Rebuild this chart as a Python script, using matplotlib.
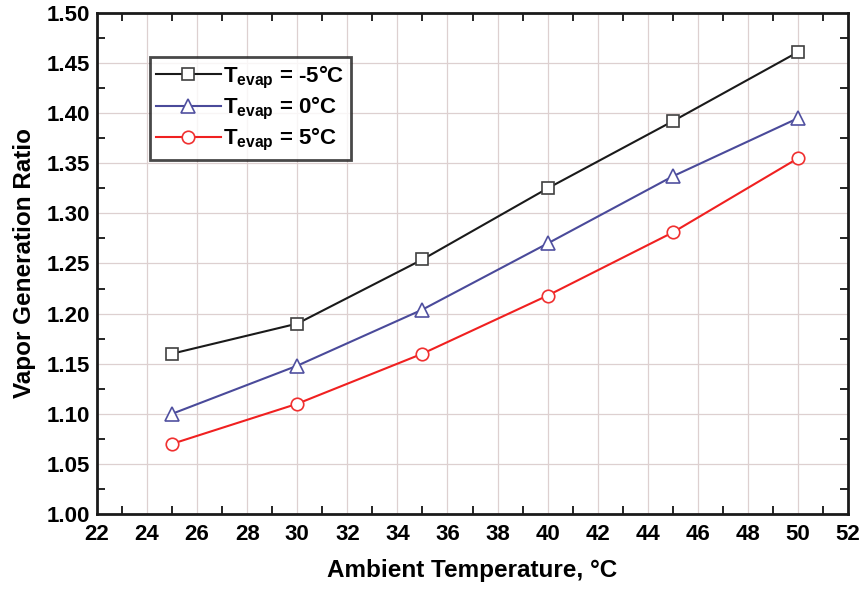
import numpy as np
import matplotlib
matplotlib.use('Agg')
import matplotlib.pyplot as plt
from matplotlib.ticker import MultipleLocator

plt.rcParams['font.family'] = 'Liberation Sans'
plt.rcParams['font.weight'] = 'bold'
plt.rcParams['mathtext.fontset'] = 'custom'
plt.rcParams['mathtext.rm'] = 'Liberation Sans:bold'
plt.rcParams['mathtext.bf'] = 'Liberation Sans:bold'

t_amb = [25, 30, 35, 40, 45, 50]
ratio_m5 = [1.160, 1.190, 1.254, 1.325, 1.392, 1.461]
ratio_0 = [1.100, 1.148, 1.204, 1.270, 1.337, 1.395]
ratio_5 = [1.070, 1.110, 1.160, 1.218, 1.281, 1.355]
labels = [r'T$_{\mathbf{evap}}$ = -5°C', r'T$_{\mathbf{evap}}$ = 0°C', r'T$_{\mathbf{evap}}$ = 5°C']

fig = plt.figure(figsize=(8.62, 5.9), dpi=100)
ax = fig.add_axes([0.1125, 0.1288, 0.8713, 0.8492])

ax.plot(t_amb, ratio_m5, color='#1a1a1a', lw=1.5, marker='s', ms=9, mfc='white', mec='#404040', mew=1.2, label=labels[0])
ax.plot(t_amb, ratio_0, color='#4a4a9a', lw=1.5, marker='^', ms=10, mfc='white', mec='#5050a0', mew=1.2, label=labels[1])
ax.plot(t_amb, ratio_5, color='#f02020', lw=1.5, marker='o', ms=9, mfc='white', mec='#f03030', mew=1.2, label=labels[2])

ax.set_xlim(22, 52)
ax.set_ylim(1.0, 1.5)
ax.xaxis.set_major_locator(MultipleLocator(2))
ax.xaxis.set_minor_locator(MultipleLocator(1))
ax.yaxis.set_major_locator(MultipleLocator(0.05))
ax.yaxis.set_minor_locator(MultipleLocator(0.025))
ax.yaxis.set_major_formatter(plt.FormatStrFormatter('%.2f'))
ax.tick_params(which='both', direction='in', top=True, right=True, labelsize=16, width=1.2)
ax.tick_params(which='major', length=0, pad=7)
ax.tick_params(axis='y', which='major', pad=5)
ax.tick_params(which='minor', length=6)
ax.grid(True, which='major', color='#ddd0d0', lw=0.9)
for s in ax.spines.values():
    s.set_linewidth(2)
    s.set_color('#1a1a1a')

ax.set_xlabel('Ambient Temperature, °C', fontsize=17.5, fontweight='bold', labelpad=10)
ax.set_ylabel('Vapor Generation Ratio', fontsize=17.5, fontweight='bold', labelpad=8)

leg = ax.legend(loc='upper left', bbox_to_anchor=(0.070, 0.912), fontsize=16, frameon=True, fancybox=False,
                edgecolor='#1a1a1a', handlelength=2.9, handletextpad=0.1, borderpad=0.3, labelspacing=0.18, borderaxespad=0)
leg.get_frame().set_linewidth(2)

fig.savefig('out.png', dpi=100)
